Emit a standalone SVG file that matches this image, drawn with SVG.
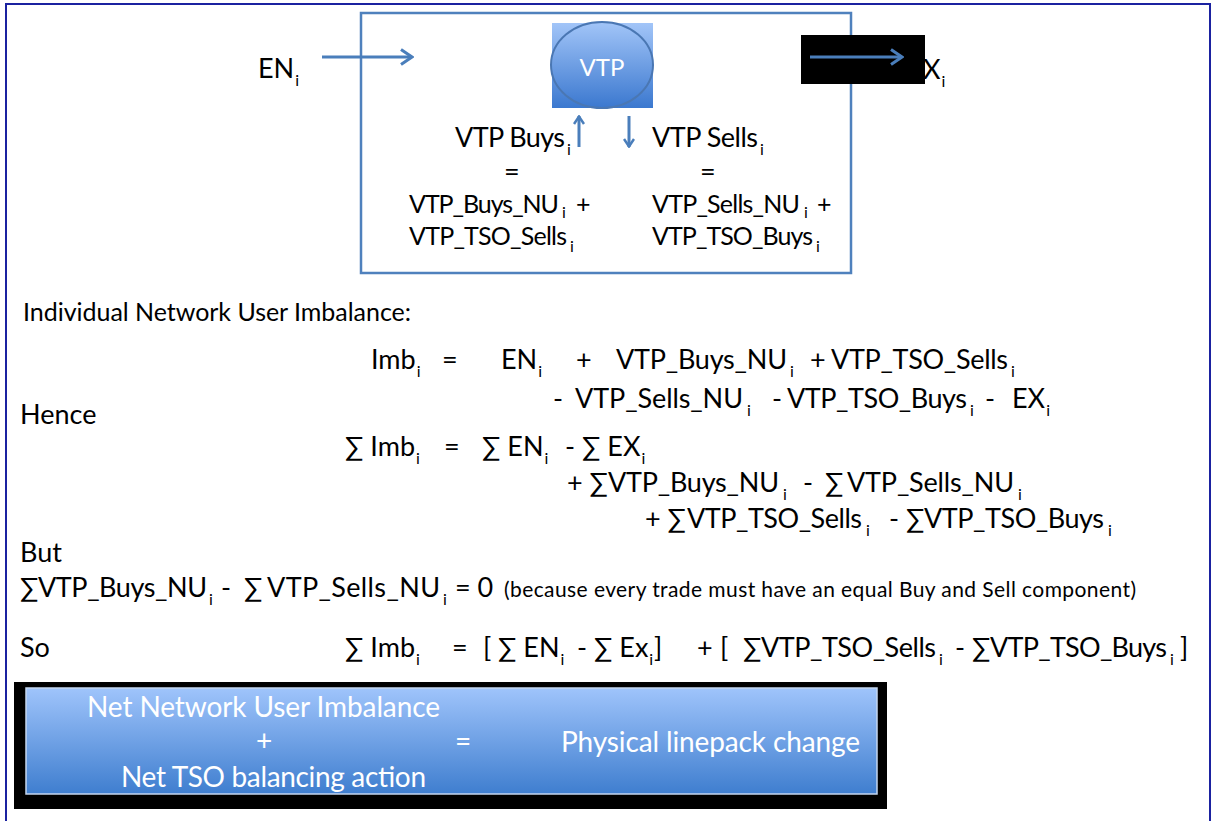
<svg xmlns="http://www.w3.org/2000/svg" width="1213" height="821" viewBox="0 0 1213 821">
<style>
text{font-family:Lato,"Liberation Sans",sans-serif;fill:#000}
.b{font-size:27px}
.m{font-size:25px}
.sm{font-size:21px}
.sub{font-size:16px}
.w{fill:#fff}
.blue{stroke:#4a7ebb;stroke-width:3;fill:none}
</style>
<defs>
<linearGradient id="gv" x1="0" y1="0" x2="0" y2="1">
<stop offset="0" stop-color="#a2c5f8"/><stop offset="1" stop-color="#3b78cf"/>
</linearGradient>
<linearGradient id="gb" x1="0" y1="0" x2="0" y2="1">
<stop offset="0" stop-color="#9fc4fb"/><stop offset="1" stop-color="#3f7ecf"/>
</linearGradient>
<marker id="ah" viewBox="0 0 14 18" refX="12" refY="9" markerWidth="14" markerHeight="18" orient="auto" markerUnits="userSpaceOnUse">
<path d="M1,1.5 L12,9 L1,16.5" fill="none" stroke="#4a7ebb" stroke-width="3"/>
</marker>
<marker id="as" viewBox="0 0 10 12" refX="9" refY="6" markerWidth="10" markerHeight="12" orient="auto" markerUnits="userSpaceOnUse">
<path d="M1,1 L8.5,6 L1,11" fill="none" stroke="#4a7ebb" stroke-width="2.5"/>
</marker>
</defs>
<rect width="1213" height="821" fill="#fff"/>
<g id="frame"><rect x="6" y="4" width="1204" height="840" fill="none" stroke="#1b22a0" stroke-width="2"/></g>
<g id="vtp-box"><rect x="361" y="13" width="490" height="260" fill="none" stroke="#4f81bd" stroke-width="2.5"/></g>
<g id="vtp">
<rect x="552" y="23" width="101" height="85" fill="url(#gv)"/>
<ellipse cx="602" cy="65" rx="51" ry="43" fill="url(#gv)" stroke="#4a77b3" stroke-width="2"/>
<text class="w" x="602" y="76" text-anchor="middle" style="font-size:24px">VTP</text>
</g>
<g id="exit-mask"><rect x="801" y="35" width="124" height="49" fill="#000"/></g>
<g id="connectors">
<line class="blue" x1="322" y1="57" x2="412" y2="57" marker-end="url(#ah)"/>
<line class="blue" x1="810" y1="57" x2="902" y2="57" marker-end="url(#ah)"/>
<line class="blue" x1="579" y1="147" x2="579" y2="116" stroke-width="2.5" marker-end="url(#as)"/>
<line class="blue" x1="629" y1="116" x2="629" y2="147" stroke-width="2.5" marker-end="url(#as)"/>
</g>
<g id="en-label"><text class="b" x="258" y="78">EN<tspan class="sub" dx="1" dy="8">i</tspan></text></g>
<g id="ex-label"><text class="b" x="923" y="79">X<tspan class="sub" dx="1" dy="8">i</tspan></text></g>
<g id="vtp-buys">
<text class="b" x="455" y="147" textLength="110">VTP Buys</text><text class="sub" x="567" y="155">i</text>
<text class="b" x="504" y="181">=</text>
<text class="m" x="409" y="213" textLength="150">VTP_Buys_NU</text><text class="sub" x="562" y="218">i</text><text class="m" x="576" y="213">+</text>
<text class="m" x="409" y="245" textLength="158">VTP_TSO_Sells</text><text class="sub" x="570" y="252">i</text>
</g>
<g id="vtp-sells">
<text class="b" x="652" y="147" textLength="106">VTP Sells</text><text class="sub" x="760" y="155">i</text>
<text class="b" x="700" y="181">=</text>
<text class="m" x="652" y="213" textLength="148">VTP_Sells_NU</text><text class="sub" x="804" y="218">i</text><text class="m" x="817" y="213">+</text>
<text class="m" x="652" y="245" textLength="161">VTP_TSO_Buys</text><text class="sub" x="816" y="252">i</text>
</g>
<g id="equations">
<text class="m" x="23" y="321" textLength="388">Individual Network User Imbalance:</text>
<text class="b" x="371" y="369">Imb<tspan class="sub" dx="1" dy="8">i</tspan></text>
<text class="b" x="442" y="369">=</text>
<text class="b" x="501" y="369">EN<tspan class="sub" dx="1" dy="8">i</tspan></text>
<text class="b" x="576" y="369">+</text>
<text class="b" x="616" y="369" textLength="171">VTP_Buys_NU</text><text class="sub" x="790" y="377">i</text>
<text class="b" x="810" y="369">+</text>
<text class="b" x="831" y="369" textLength="177">VTP_TSO_Sells</text><text class="sub" x="1011" y="377">i</text>
<text class="b" x="553" y="408">-</text>
<text class="b" x="575" y="408" textLength="168">VTP_Sells_NU</text><text class="sub" x="747" y="416">i</text>
<text class="b" x="772" y="408">-</text>
<text class="b" x="787" y="408" textLength="180">VTP_TSO_Buys</text><text class="sub" x="970" y="416">i</text>
<text class="b" x="985" y="408">-</text>
<text class="b" x="1012" y="408">EX<tspan class="sub" dx="1" dy="8">i</tspan></text>
<text class="b" x="20" y="424">Hence</text>
<text class="b" x="345" y="456">∑ Imb<tspan class="sub" dx="1" dy="8">i</tspan></text>
<text class="b" x="444" y="456">=</text>
<text class="b" x="482" y="456">∑ EN<tspan class="sub" dx="1" dy="8">i</tspan></text>
<text class="b" x="565" y="456">- ∑ EX<tspan class="sub" dx="1" dy="8">i</tspan></text>
<text class="b" x="567" y="492">+ ∑</text><text class="b" x="608" y="492" textLength="171">VTP_Buys_NU</text><text class="sub" x="783" y="500">i</text>
<text class="b" x="803" y="492">-</text>
<text class="b" x="825" y="492">∑</text><text class="b" x="847" y="492" textLength="167">VTP_Sells_NU</text><text class="sub" x="1018" y="500">i</text>
<text class="b" x="645" y="528">+ ∑</text><text class="b" x="687" y="528" textLength="175">VTP_TSO_Sells</text><text class="sub" x="866" y="536">i</text>
<text class="b" x="889" y="528">- ∑</text><text class="b" x="924" y="528" textLength="180">VTP_TSO_Buys</text><text class="sub" x="1108" y="536">i</text>
<text class="b" x="20" y="562">But</text>
<text class="b" x="20" y="597">∑</text><text class="b" x="38" y="597" textLength="169">VTP_Buys_NU</text><text class="sub" x="209" y="605">i</text>
<text class="b" x="221" y="597">-</text>
<text class="b" x="244" y="597">∑</text><text class="b" x="267" y="597" textLength="173">VTP_Sells_NU</text><text class="sub" x="443" y="605">i</text>
<text class="b" x="455" y="597">= 0</text>
<text class="sm" x="504" y="597" textLength="632">(because every trade must have an equal Buy and Sell component)</text>
<text class="b" x="20" y="657">So</text>
<text class="b" x="345" y="657">∑ Imb<tspan class="sub" dx="1" dy="8">i</tspan></text>
<text class="b" x="452" y="657">=</text>
<text class="b" x="483" y="657">[</text>
<text class="b" x="498" y="657">∑ EN<tspan class="sub" dx="1" dy="8">i</tspan></text>
<text class="b" x="577" y="657">- ∑ Ex<tspan class="sub" dx="1" dy="8">i</tspan></text>
<text class="b" x="654" y="657">]</text>
<text class="b" x="697" y="657">+</text>
<text class="b" x="720" y="657">[</text>
<text class="b" x="743" y="657">∑</text><text class="b" x="761" y="657" textLength="175">VTP_TSO_Sells</text><text class="sub" x="939" y="665">i</text>
<text class="b" x="955" y="657">- ∑</text><text class="b" x="990" y="657" textLength="177">VTP_TSO_Buys</text><text class="sub" x="1170" y="665">i</text>
<text class="b" x="1180" y="657">]</text>
</g>
<g id="summary">
<rect x="14" y="682" width="873" height="127" fill="#000"/>
<rect x="26" y="688" width="851" height="106" fill="url(#gb)" stroke="#c4d6f0" stroke-width="1.5"/>
<text class="w" x="87" y="717" textLength="353" style="font-size:28px">Net Network User Imbalance</text>
<text class="w" x="264" y="751" text-anchor="middle" style="font-size:28px">+</text>
<text class="w" x="463" y="751" text-anchor="middle" style="font-size:28px">=</text>
<text class="w" x="561" y="752" textLength="299" style="font-size:28px">Physical linepack change</text>
<text class="w" x="121" y="787" textLength="305" style="font-size:28px">Net TSO balancing action</text>
</g>
</svg>
